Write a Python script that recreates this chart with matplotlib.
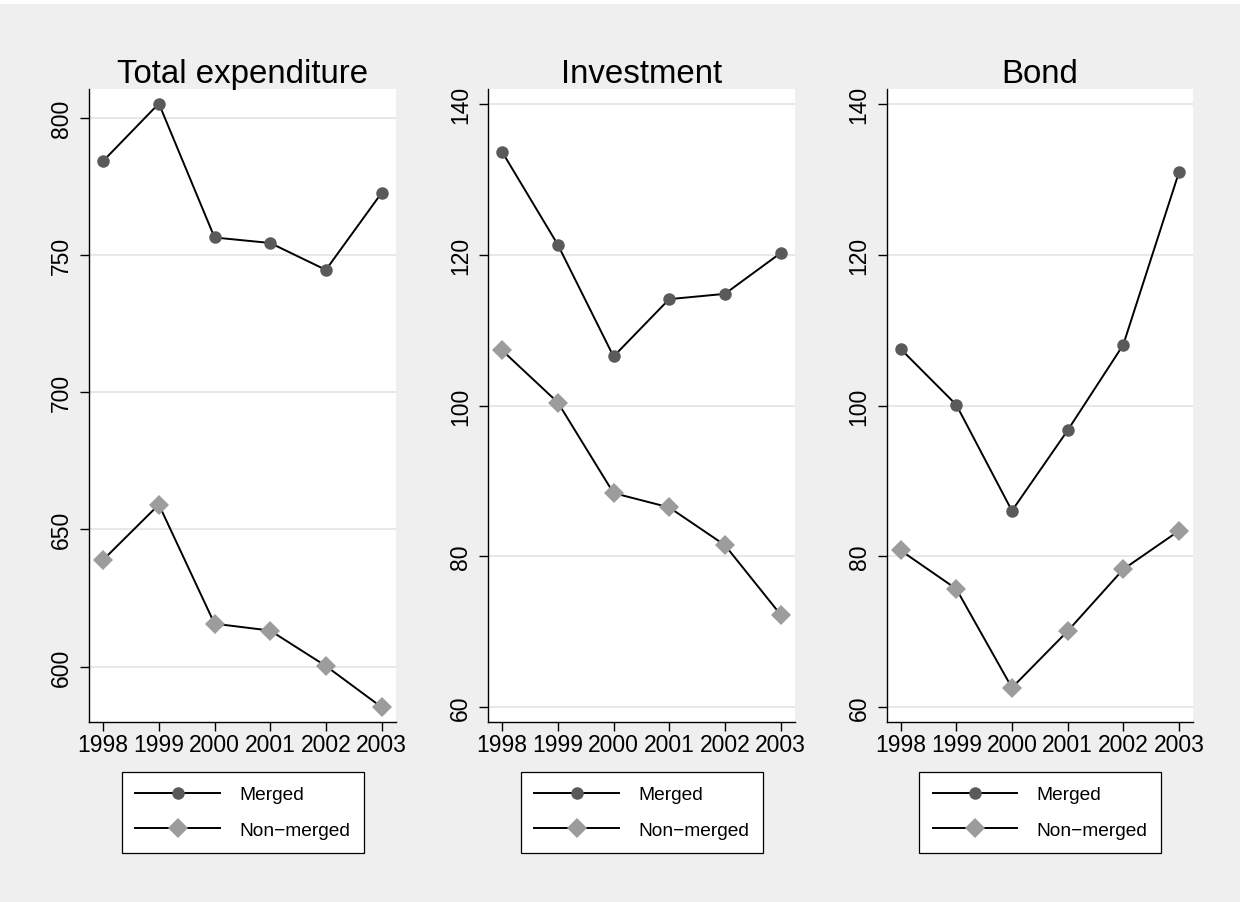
import matplotlib
matplotlib.use("Agg")
import matplotlib.pyplot as plt
from matplotlib.patches import Rectangle

plt.rcParams['font.family'] = ['Liberation Sans', 'DejaVu Sans']

years = [1998, 1999, 2000, 2001, 2002, 2003]

titles = ["Total expenditure", "Investment", "Bond"]

total_merged = [784.2, 805.1, 756.3, 754.3, 744.5, 772.5]
total_nonmerged = [638.9, 659.0, 615.6, 613.1, 600.2, 585.2]

invest_merged = [133.6, 121.3, 106.5, 114.1, 114.8, 120.2]
invest_nonmerged = [107.3, 100.4, 88.4, 86.5, 81.5, 72.3]

bond_merged = [107.5, 100.1, 86.05, 96.7, 108.05, 130.9]
bond_nonmerged = [80.8, 75.7, 62.6, 70.1, 78.3, 83.4]

yticks_total = [600, 650, 700, 750, 800]
yticks_other = [60, 80, 100, 120, 140]

series_labels = ["Merged", "Non\u2212merged"]

panels = [
    (titles[0], total_merged, total_nonmerged, yticks_total, (579.9, 810.4)),
    (titles[1], invest_merged, invest_nonmerged, yticks_other, (58.1, 141.95)),
    (titles[2], bond_merged, bond_nonmerged, yticks_other, (58.1, 141.95)),
]

W, H = 1240, 903
fig = plt.figure(figsize=(W / 100, H / 100), dpi=100)
fig.patch.set_facecolor('#efefef')
fig.patches.append(Rectangle((0, (H - 5) / H), 1, 5 / H, transform=fig.transFigure,
                             facecolor='white', edgecolor='none', zorder=0))

lefts = [89.3, 488.3, 886.7]
ax_w = 306.7
ax_top = 90.0
ax_bot = 722.7

merged_color = '#5a5a5a'
nonmerged_color = '#9c9c9c'

for left, (title, m, nm, yt, ylim) in zip(lefts, panels):
    ax = fig.add_axes([left / W, (H - ax_bot) / H, ax_w / W, (ax_bot - ax_top) / H])
    ax.set_facecolor('white')
    ax.plot(years, m, color='black', lw=1.4, marker='o', ms=9.0,
            mfc=merged_color, mec=merged_color, mew=0, label=series_labels[0], zorder=3)
    ax.plot(years, nm, color='black', lw=1.4, marker='D', ms=10.0,
            mfc=nonmerged_color, mec=nonmerged_color, mew=0, label=series_labels[1], zorder=3)
    ax.set_xlim(1997.75, 2003.26)
    ax.set_ylim(*ylim)
    ax.set_xticks(years)
    ax.set_xticklabels([str(y) for y in years])
    ax.set_yticks(yt)
    ax.set_yticklabels([str(v) for v in yt], rotation=90, va='center')
    ax.yaxis.grid(True, color='#e6e6e6', lw=1.3)
    ax.set_axisbelow(True)
    for s in ['top', 'right']:
        ax.spines[s].set_visible(False)
    for s in ['left', 'bottom']:
        ax.spines[s].set_color('black')
        ax.spines[s].set_linewidth(1.0)
    ax.tick_params(axis='both', labelsize=16.5, length=6.5, width=1.0, color='black')
    ax.tick_params(axis='x', pad=1.5)
    ax.tick_params(axis='y', pad=5.0)
    ax.set_title(title, fontsize=23.8, pad=5)
    leg = ax.legend(loc='upper center', bbox_to_anchor=(0.5, -(773 - ax_bot) / (ax_bot - ax_top)),
                    borderaxespad=0, fontsize=13.8, handlelength=4.4, handletextpad=1.0,
                    borderpad=0.72, labelspacing=0.95, fancybox=False, framealpha=1,
                    edgecolor='black', numpoints=1)
    leg.get_frame().set_linewidth(0.9)

fig.savefig('out.png', dpi=100, facecolor=fig.get_facecolor())
